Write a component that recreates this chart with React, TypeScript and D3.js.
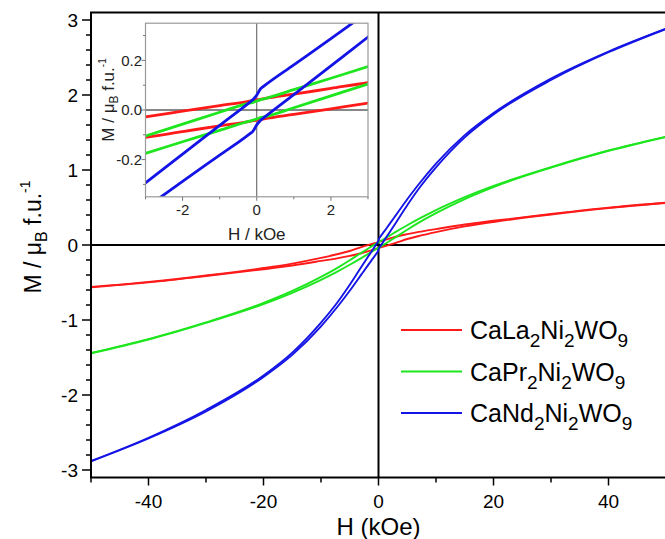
import React from "react";
import * as d3 from "d3";

// Field grid (kOe) shared by all branches
const fieldH = [-50, -40, -30, -20, -15, -10, -7, -5, -3, -2, -1, -0.2, -0.1, 0, 0.1, 0.2, 1, 2, 3, 5, 7, 10, 15, 20, 30, 40, 50];

// CaLa2Ni2WO9 (red)
const laUpper = [-0.5605, -0.492, -0.406, -0.3075, -0.2475, -0.1725, -0.12, -0.08, -0.028, -0.005, 0.018, 0.036, 0.039, 0.041, 0.043, 0.046, 0.064, 0.087, 0.11, 0.145, 0.175, 0.2125, 0.2725, 0.3225, 0.414, 0.498, 0.5645];
const laLower = [-0.5645, -0.498, -0.414, -0.3225, -0.2725, -0.2125, -0.175, -0.145, -0.11, -0.087, -0.064, -0.046, -0.043, -0.041, -0.039, -0.036, -0.018, 0.005, 0.028, 0.08, 0.12, 0.1725, 0.2475, 0.3075, 0.406, 0.492, 0.5605];

// CaPr2Ni2WO9 (green)
const prUpper = [-1.4405, -1.2545, -1.031, -0.7725, -0.6125, -0.425, -0.2975, -0.2035, -0.105, -0.057, -0.009, 0.028, 0.031, 0.036, 0.041, 0.045, 0.082, 0.128, 0.175, 0.2635, 0.3475, 0.465, 0.6375, 0.7875, 1.039, 1.2605, 1.4445];
const prLower = [-1.4445, -1.2605, -1.039, -0.7875, -0.6375, -0.465, -0.3475, -0.2635, -0.175, -0.128, -0.082, -0.045, -0.041, -0.036, -0.031, -0.028, 0.009, 0.057, 0.105, 0.2035, 0.2975, 0.425, 0.6125, 0.7725, 1.031, 1.2545, 1.4405];

// CaNd2Ni2WO9 (blue)
const ndUpper = [-2.88, -2.57, -2.20, -1.74, -1.435, -1.035, -0.75, -0.53, -0.294, -0.178, -0.062, 0.030, 0.042, 0.060, 0.085, 0.097, 0.182, 0.288, 0.395, 0.61, 0.81, 1.085, 1.465, 1.76, 2.22, 2.58, 2.885];
const ndLower = [-2.885, -2.58, -2.22, -1.76, -1.465, -1.085, -0.81, -0.61, -0.395, -0.288, -0.182, -0.097, -0.085, -0.060, -0.042, -0.030, 0.062, 0.178, 0.294, 0.53, 0.75, 1.035, 1.435, 1.74, 2.20, 2.57, 2.88];

const formulaParts = [
  ["CaLa", "2", "Ni", "2", "WO", "9"],
  ["CaPr", "2", "Ni", "2", "WO", "9"],
  ["CaNd", "2", "Ni", "2", "WO", "9"],
];
const seriesColors = ["#ff1a1a", "#1ee61e", "#1414e6"];

const mainXTicks = [-40, -20, 0, 20, 40];
const mainXMinor = [-50, -30, -10, 10, 30, 50];
const mainYTicks = [-3, -2, -1, 0, 1, 2, 3];
const insetXTicks = [-2, 0, 2];
const insetXMinor = [-3, -1, 1, 3];
const insetYTicks = [-0.2, 0, 0.2];
const insetYMinor = [-0.3, -0.1, 0.1, 0.3];

const FONT = "'Liberation Sans', Arial, Helvetica, sans-serif";

export default function App() {
  const W = 665, H = 539;
  const x = d3.scaleLinear().domain([-50, 50]).range([91, 666]);
  const y = d3.scaleLinear().domain([-3.1, 3.1]).range([477.5, 12.5]);
  const ix = d3.scaleLinear().domain([-3, 3]).range([145.5, 368]);
  const iy = d3.scaleLinear().domain([-0.35, 0.35]).range([196.8, 23.2]);

  const series = [
    { up: laUpper, lo: laLower },
    { up: prUpper, lo: prLower },
    { up: ndUpper, lo: ndLower },
  ].map((s, i) => ({ ...s, color: seriesColors[i], parts: formulaParts[i] }));

  const mkLine = (sx: any, sy: any) =>
    d3.line<number>().x((_, j) => sx(fieldH[j])).y((v) => sy(v)).curve(d3.curveMonotoneX);
  const mainLine = mkLine(x, y);
  const insetLine = mkLine(ix, iy);

  const [x0, x1] = x.range();
  const [yb, yt] = y.range();
  const [ix0, ix1] = ix.range();
  const [iyb, iyt] = iy.range();

  const yMinor = d3.range(-3.0, 3.01, 0.2).map((v) => Math.round(v * 10) / 10).filter((v) => !Number.isInteger(v));

  const legendY = [330, 371.5, 413];

  return (
    <svg width={W} height={H} style={{ position: "absolute", left: 0, top: 0, background: "#fff" }} fontFamily={FONT}>
      <defs>
        <clipPath id="mainClip"><rect x={x0} y={yt} width={x1 - x0} height={yb - yt} /></clipPath>
        <clipPath id="insetClip"><rect x={ix0} y={iyt} width={ix1 - ix0} height={iyb - iyt} /></clipPath>
      </defs>
      <rect x={0} y={0} width={W} height={H} fill="#fff" />

      {/* main zero lines */}
      <line x1={x0} x2={x1} y1={y(0)} y2={y(0)} stroke="#000" strokeWidth={2} />
      <line x1={x(0)} x2={x(0)} y1={yt} y2={yb} stroke="#000" strokeWidth={2} />

      {/* main curves */}
      <g clipPath="url(#mainClip)" fill="none">
        {series.map((s, i) => (
          <g key={i} stroke={s.color} strokeWidth={1.9}>
            <path d={mainLine(s.up) || ""} />
            <path d={mainLine(s.lo) || ""} />
          </g>
        ))}
      </g>

      {/* main frame */}
      <rect x={x0} y={yt} width={x1 - x0} height={yb - yt} fill="none" stroke="#000" strokeWidth={2} />

      {/* main x ticks */}
      {mainXTicks.map((t) => (
        <g key={"mx" + t}>
          <line x1={x(t)} x2={x(t)} y1={yb} y2={yb + 8} stroke="#000" strokeWidth={1.5} />
          <text x={x(t)} y={508} textAnchor="middle" fontSize={19}>{t}</text>
        </g>
      ))}
      {mainXMinor.map((t) => (
        <line key={"mxm" + t} x1={x(t)} x2={x(t)} y1={yb} y2={yb + 5} stroke="#000" strokeWidth={1.5} />
      ))}
      <text x={x(0)} y={535} textAnchor="middle" fontSize={24}>H (kOe)</text>

      {/* main y ticks */}
      {mainYTicks.map((t) => (
        <g key={"my" + t}>
          <line x1={x0 - 9} x2={x0} y1={y(t)} y2={y(t)} stroke="#000" strokeWidth={1.5} />
          <text x={78} y={y(t)} dy="0.35em" textAnchor="end" fontSize={19}>{t}</text>
        </g>
      ))}
      {yMinor.map((t) => (
        <line key={"mym" + t} x1={x0 - 5} x2={x0} y1={y(t)} y2={y(t)} stroke="#000" strokeWidth={1.5} />
      ))}
      <text transform="translate(41,237) rotate(-90)" textAnchor="middle" fontSize={23}>
        M / μ<tspan fontSize={16} dy={6}>B</tspan><tspan dy={-6}> f.u.</tspan><tspan fontSize={14} dy={-11}>-1</tspan>
      </text>

      {/* inset */}
      <rect x={ix0} y={iyt} width={ix1 - ix0} height={iyb - iyt} fill="#fff" />
      <line x1={ix(0)} x2={ix(0)} y1={iyt} y2={iyb} stroke="#555" strokeWidth={1} />
      <line x1={ix0} x2={ix1} y1={iy(0)} y2={iy(0)} stroke="#111" strokeWidth={1.2} />
      <g clipPath="url(#insetClip)" fill="none">
        {series.map((s, i) => (
          <g key={i} stroke={s.color} strokeWidth={2.8}>
            <path d={insetLine(s.up) || ""} />
            <path d={insetLine(s.lo) || ""} />
          </g>
        ))}
      </g>
      <rect x={ix0} y={iyt} width={ix1 - ix0} height={iyb - iyt} fill="none" stroke="#999" strokeWidth={1.2} />
      {insetXTicks.map((t) => (
        <g key={"ix" + t}>
          <line x1={ix(t)} x2={ix(t)} y1={iyb} y2={iyb + 4} stroke="#777" strokeWidth={1} />
          <text x={ix(t)} y={215} textAnchor="middle" fontSize={15} fill="#222">{t}</text>
        </g>
      ))}
      {insetXMinor.map((t) => (
        <line key={"ixm" + t} x1={ix(t)} x2={ix(t)} y1={iyb} y2={iyb + 2.5} stroke="#777" strokeWidth={1} />
      ))}
      {insetYTicks.map((t) => (
        <g key={"iy" + t}>
          <line x1={ix0 - 4} x2={ix0} y1={iy(t)} y2={iy(t)} stroke="#777" strokeWidth={1} />
          <text x={142} y={iy(t)} dy="0.35em" textAnchor="end" fontSize={15} fill="#222">{t.toFixed(1)}</text>
        </g>
      ))}
      {insetYMinor.map((t) => (
        <line key={"iym" + t} x1={ix0 - 2.5} x2={ix0} y1={iy(t)} y2={iy(t)} stroke="#777" strokeWidth={1} />
      ))}
      <text x={ix(0)} y={240} textAnchor="middle" fontSize={17} fill="#222">H / kOe</text>
      <text transform="translate(114,100) rotate(-90)" textAnchor="middle" fontSize={17} fill="#222">
        M / μ<tspan fontSize={12} dy={4}>B</tspan><tspan dy={-4}> f.u.</tspan><tspan fontSize={10} dy={-8}>-1</tspan>
      </text>

      {/* legend */}
      {series.map((s, i) => (
        <g key={"lg" + i}>
          <line x1={401} x2={462} y1={legendY[i]} y2={legendY[i]} stroke={s.color} strokeWidth={2} />
          <text x={470} y={legendY[i] + 9} fontSize={25}>
            {s.parts.map((p, k) =>
              k % 2 === 0 ? (
                <tspan key={k} fontSize={25} dy={k === 0 ? 0 : -8}>{p}</tspan>
              ) : (
                <tspan key={k} fontSize={19} dy={8}>{p}</tspan>
              )
            )}
          </text>
        </g>
      ))}
    </svg>
  );
}
